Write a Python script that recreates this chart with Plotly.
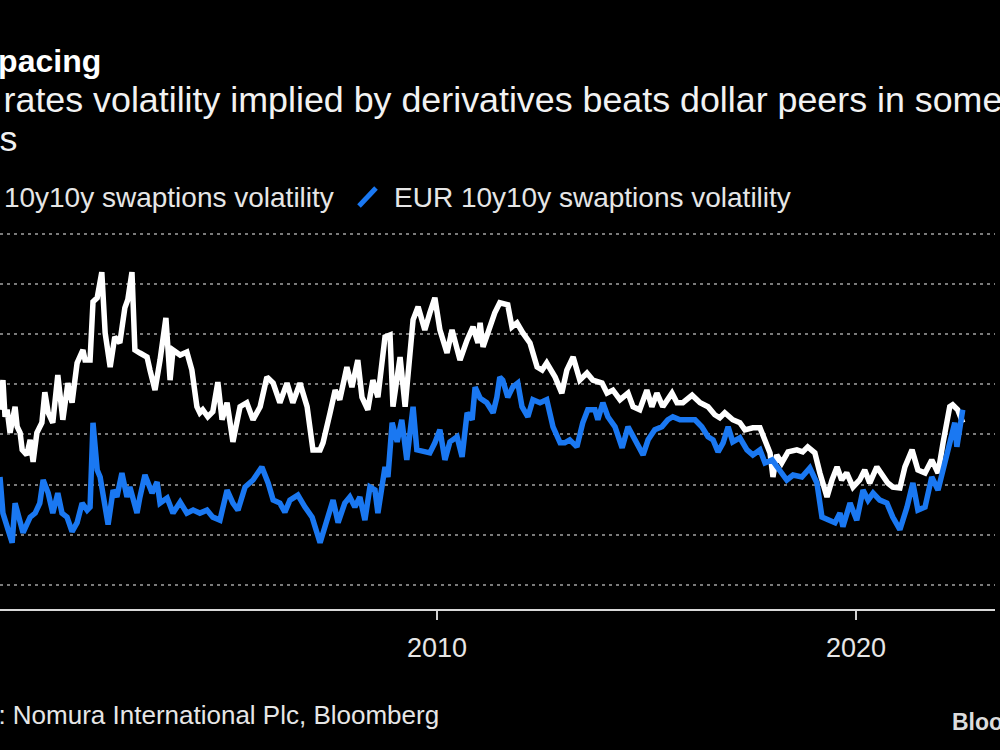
import plotly.graph_objects as go

# ---- data (decimal years, implied normal vol) ----
usd_year = [1999.57, 1999.64, 1999.69, 1999.74, 1999.81, 1999.88, 1999.93, 1999.98, 2000.05, 2000.10,
            2000.21, 2000.29, 2000.36, 2000.45, 2000.57, 2000.64, 2000.72, 2000.83, 2000.95, 2001.07,
            2001.19, 2001.29, 2001.41, 2001.55, 2001.60, 2001.72, 2001.79, 2001.89, 2002.00, 2002.08,
            2002.20, 2002.31, 2002.43, 2002.55, 2002.62, 2002.72, 2002.79, 2002.91, 2003.08, 2003.15,
            2003.27, 2003.39, 2003.53, 2003.63, 2003.70, 2003.87, 2004.03, 2004.15, 2004.27, 2004.34,
            2004.41, 2004.53, 2004.65, 2004.77, 2004.87, 2004.99, 2005.13, 2005.30, 2005.46, 2005.61,
            2005.78, 2005.94, 2006.09, 2006.25, 2006.42, 2006.56, 2006.73, 2006.90, 2007.04, 2007.21,
            2007.28, 2007.45, 2007.57, 2007.68, 2007.85, 2007.97, 2008.11, 2008.21, 2008.35, 2008.47,
            2008.59, 2008.76, 2008.88, 2008.95, 2009.12, 2009.24, 2009.36, 2009.43, 2009.55, 2009.71,
            2009.83, 2009.95, 2010.07, 2010.24, 2010.36, 2010.55, 2010.72, 2010.86, 2010.98, 2011.03,
            2011.10, 2011.26, 2011.38, 2011.50, 2011.69, 2011.79, 2011.91, 2012.05, 2012.22, 2012.39,
            2012.51, 2012.62, 2012.82, 2012.98, 2013.10, 2013.25, 2013.41, 2013.58, 2013.72, 2013.94,
            2014.06, 2014.20, 2014.37, 2014.56, 2014.68, 2014.84, 2015.01, 2015.13, 2015.25, 2015.39,
            2015.61, 2015.73, 2015.87, 2016.09, 2016.28, 2016.47, 2016.63, 2016.75, 2016.87, 2017.06,
            2017.23, 2017.35, 2017.54, 2017.71, 2017.83, 2017.95, 2018.02, 2018.11, 2018.23, 2018.38,
            2018.59, 2018.73, 2018.85, 2019.02, 2019.14, 2019.31, 2019.43, 2019.55, 2019.66, 2019.78,
            2019.93, 2020.09, 2020.21, 2020.33, 2020.50, 2020.64, 2020.76, 2020.88, 2021.05, 2021.17,
            2021.34, 2021.48, 2021.65, 2021.81, 2021.96, 2022.08, 2022.24, 2022.31, 2022.43, 2022.55]
usd_vol = [74.9, 80.8, 73.5, 74.9, 70.3, 73.9, 75.5, 71.5, 70.3, 66.9,
           65.9, 68.9, 64.5, 70.3, 72.3, 78.4, 74.3, 72.3, 81.8, 72.9,
           80.2, 76.3, 84.2, 86.8, 84.8, 84.8, 96.4, 97.2, 102.3, 90.2,
           83.4, 89.4, 88.2, 95.2, 96.8, 102.3, 86.8, 86.2, 85.4, 82.8,
           78.8, 84.8, 93.2, 80.8, 86.8, 85.8, 86.4, 82.8, 75.5, 74.3,
           74.9, 73.5, 74.5, 80.4, 72.9, 76.3, 68.5, 75.5, 76.3, 72.9,
           75.5, 81.4, 80.2, 76.3, 80.2, 76.3, 80.2, 75.5, 66.9, 66.9,
           68.3, 74.3, 78.8, 76.9, 83.4, 79.4, 84.8, 77.4, 74.9, 80.8,
           77.4, 89.4, 89.8, 75.5, 85.4, 75.5, 86.8, 92.8, 95.4, 90.8,
           94.2, 97.2, 90.8, 86.2, 90.8, 84.8, 88.8, 91.4, 88.2, 92.2,
           87.4, 91.4, 94.2, 96.2, 95.8, 91.4, 92.2, 90.2, 88.2, 83.4,
           82.8, 84.2, 81.4, 78.2, 82.8, 85.4, 80.8, 82.2, 80.8, 80.2,
           78.2, 78.8, 76.9, 78.2, 75.5, 74.9, 78.8, 75.5, 78.2, 75.5,
           78.2, 76.3, 76.3, 77.8, 76.3, 75.5, 73.9, 73.3, 74.3, 72.9,
           72.3, 70.9, 71.3, 71.3, 68.9, 66.3, 61.5, 65.9, 64.3, 66.5,
           66.9, 66.5, 67.5, 66.3, 62.3, 57.5, 60.9, 63.5, 60.9, 62.3,
           59.5, 60.9, 62.9, 60.3, 63.5, 61.5, 60.3, 59.5, 59.3, 63.5,
           66.9, 62.9, 62.3, 64.9, 62.3, 68.3, 75.5, 75.9, 74.9, 72.3]

eur_year = [1999.57, 1999.64, 1999.74, 1999.86, 1999.93, 2000.05, 2000.12, 2000.29, 2000.41, 2000.52,
            2000.60, 2000.72, 2000.83, 2000.95, 2001.05, 2001.17, 2001.29, 2001.41, 2001.53, 2001.65,
            2001.72, 2001.79, 2001.89, 2001.96, 2002.03, 2002.15, 2002.27, 2002.36, 2002.48, 2002.60,
            2002.67, 2002.84, 2002.91, 2003.03, 2003.20, 2003.32, 2003.39, 2003.56, 2003.70, 2003.87,
            2004.03, 2004.18, 2004.34, 2004.51, 2004.65, 2004.82, 2004.99, 2005.13, 2005.25, 2005.42,
            2005.61, 2005.82, 2005.97, 2006.09, 2006.25, 2006.37, 2006.49, 2006.68, 2006.85, 2007.02,
            2007.21, 2007.33, 2007.52, 2007.64, 2007.80, 2007.92, 2008.04, 2008.16, 2008.28, 2008.40,
            2008.52, 2008.59, 2008.69, 2008.76, 2008.83, 2008.93, 2009.05, 2009.16, 2009.28, 2009.43,
            2009.52, 2009.67, 2009.83, 2009.95, 2010.07, 2010.19, 2010.31, 2010.48, 2010.60, 2010.72,
            2010.84, 2010.91, 2011.03, 2011.19, 2011.34, 2011.43, 2011.50, 2011.57, 2011.69, 2011.81,
            2011.93, 2012.03, 2012.17, 2012.29, 2012.46, 2012.62, 2012.77, 2012.94, 2013.05, 2013.17,
            2013.34, 2013.48, 2013.60, 2013.77, 2013.84, 2013.96, 2014.08, 2014.25, 2014.42, 2014.56,
            2014.68, 2014.80, 2014.92, 2015.04, 2015.20, 2015.37, 2015.51, 2015.63, 2015.80, 2015.97,
            2016.16, 2016.32, 2016.47, 2016.59, 2016.71, 2016.83, 2016.95, 2017.06, 2017.23, 2017.40,
            2017.54, 2017.71, 2017.83, 2018.00, 2018.11, 2018.23, 2018.35, 2018.50, 2018.71, 2018.90,
            2019.07, 2019.19, 2019.33, 2019.50, 2019.62, 2019.69, 2019.86, 2020.02, 2020.17, 2020.29,
            2020.41, 2020.57, 2020.74, 2020.88, 2021.05, 2021.22, 2021.36, 2021.48, 2021.65, 2021.81,
            2021.96, 2022.08, 2022.24, 2022.36, 2022.41, 2022.55]
eur_vol = [61.5, 54.3, 51.6, 48.4, 56.3, 52.4, 50.4, 53.5, 54.3, 56.3,
           60.9, 58.3, 54.3, 58.3, 54.3, 53.5, 50.6, 52.4, 56.3, 54.9,
           55.5, 72.3, 62.9, 61.5, 57.5, 52.0, 58.9, 57.5, 62.3, 57.5,
           59.5, 54.3, 57.5, 61.9, 58.3, 60.5, 56.3, 57.3, 54.3, 56.5,
           54.3, 54.9, 54.3, 54.9, 53.5, 52.9, 58.9, 56.3, 54.9, 59.5,
           60.9, 63.5, 60.3, 56.9, 56.3, 54.5, 56.9, 57.9, 55.5, 53.5,
           48.4, 51.6, 56.9, 52.4, 56.3, 57.5, 55.5, 57.5, 52.9, 59.5,
           58.9, 54.3, 60.3, 63.5, 61.5, 72.3, 68.5, 72.9, 64.9, 75.5,
           66.9, 66.5, 66.3, 68.3, 70.9, 64.9, 68.5, 69.5, 65.5, 74.3,
           72.9, 79.4, 77.2, 76.3, 74.3, 77.4, 81.4, 80.8, 77.4, 79.4,
           80.2, 75.5, 73.5, 76.9, 76.3, 76.9, 71.5, 68.3, 68.3, 68.9,
           67.5, 72.3, 74.9, 74.9, 72.9, 76.3, 73.5, 71.5, 67.3, 71.5,
           69.5, 67.5, 65.9, 68.9, 70.9, 71.5, 72.9, 73.5, 72.9, 72.9,
           72.9, 71.5, 69.5, 68.9, 66.5, 68.3, 71.5, 68.5, 69.3, 66.9,
           65.9, 66.9, 64.3, 64.9, 63.5, 62.3, 60.9, 61.9, 61.5, 63.3,
           60.3, 53.5, 52.9, 52.4, 54.3, 51.6, 56.3, 52.9, 58.9, 56.9,
           58.3, 56.9, 56.3, 53.5, 51.0, 55.5, 60.3, 54.9, 55.5, 61.5,
           58.9, 62.9, 67.5, 72.3, 67.5, 74.9]

tick_years = [2010, 2020]
tick_labels = ["2010", "2020"]

title_text = "Outpacing"
subtitle_line1 = "Euro rates volatility implied by derivatives beats dollar peers in some"
subtitle_line2 = "tenors"
usd_name = "USD 10y10y swaptions volatility"
eur_name = "EUR 10y10y swaptions volatility"
source_text = "Source: Nomura International Plc, Bloomberg"

WHITE = "#ffffff"
BLUE = "#1a78f2"
FONT = "Liberation Sans, Arial, sans-serif"

W, H = 1000, 750
ML, MR, MT, MB = 0, 5, 224, 141
PW = W - ML - MR
PH = H - MT - MB


def px(x):
    return (x - ML) / PW


def py(y):
    return (H - MB - y) / PH


fig = go.Figure()
fig.add_trace(go.Scatter(x=usd_year, y=usd_vol, mode="lines", name=usd_name,
                         line=dict(color=WHITE, width=5.5), showlegend=False))
fig.add_trace(go.Scatter(x=eur_year, y=eur_vol, mode="lines", name=eur_name,
                         line=dict(color=BLUE, width=5.5), showlegend=False))

annotations = [
    dict(text="<b>" + title_text + "</b>", x=px(103), y=py(61), xanchor="right", yanchor="middle",
         font=dict(size=32, color=WHITE, family=FONT)),
    dict(text=subtitle_line1, x=px(-84), y=py(100), xanchor="left", yanchor="middle",
         font=dict(size=35.8, color="#f2f2f2", family=FONT)),
    dict(text=subtitle_line2, x=px(-84), y=py(139), xanchor="left", yanchor="middle",
         font=dict(size=35.8, color="#f2f2f2", family=FONT)),
    dict(text=usd_name, x=px(336), y=py(197), xanchor="right", yanchor="middle",
         font=dict(size=28, color="#e6e6e6", family=FONT)),
    dict(text=eur_name, x=px(392), y=py(197), xanchor="left", yanchor="middle",
         font=dict(size=28, color="#e6e6e6", family=FONT)),
    dict(text=source_text, x=px(441), y=py(715), xanchor="right", yanchor="middle",
         font=dict(size=26, color="#e6e6e6", family=FONT)),
    dict(text="<b>Bloomberg</b>", x=px(950), y=py(722), xanchor="left", yanchor="middle",
         font=dict(size=23, color="#dcdcdc", family=FONT)),
]
for a in annotations:
    a.update(xref="paper", yref="paper", showarrow=False)

shapes = [
    dict(type="line", xref="paper", yref="paper", x0=px(359), y0=py(206), x1=px(376), y1=py(188),
         line=dict(color=BLUE, width=5)),
]

fig.update_layout(
    width=W, height=H,
    margin=dict(l=ML, r=MR, t=MT, b=MB, autoexpand=False),
    paper_bgcolor="#000000", plot_bgcolor="#000000",
    annotations=annotations, shapes=shapes,
    showlegend=False,
    xaxis=dict(range=[1999.57, 2023.32], tickvals=tick_years, ticktext=tick_labels,
               ticks="outside", ticklen=9, tickwidth=2, tickcolor="#d0d0d0",
               ticklabelstandoff=5,
               showline=True, linecolor="#d8d8d8", linewidth=2,
               showgrid=False, zeroline=False, automargin=False,
               tickfont=dict(size=27, color="#e6e6e6", family=FONT)),
    yaxis=dict(range=[35.2, 111.9], tick0=0, dtick=10, showticklabels=False,
               showgrid=True, gridcolor="#7a7a7a", gridwidth=1.5, griddash="3px,4px",
               zeroline=False, showline=False, automargin=False),
)

fig.write_html(
    "out.html",
    config={"displayModeBar": False},
    post_script="document.body.style.margin='0px';document.body.style.overflow='hidden';"
                "document.body.style.background='#000000';",
)
